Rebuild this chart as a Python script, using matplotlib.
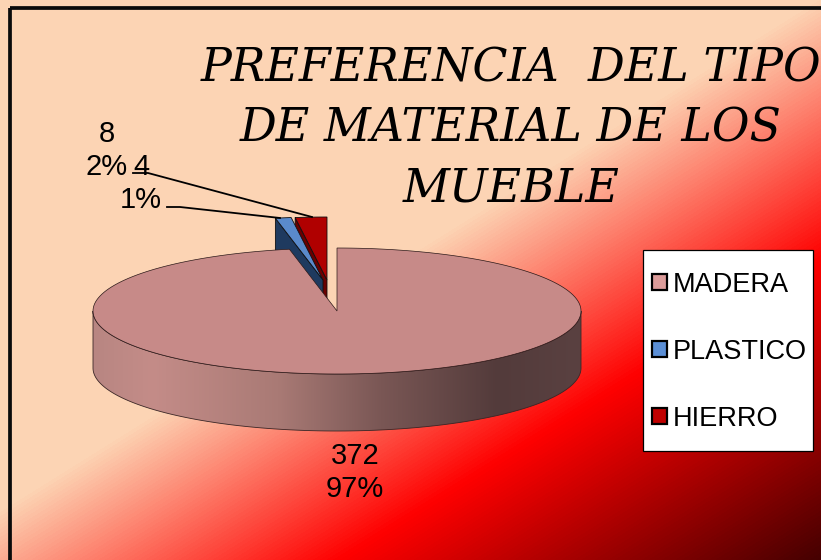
import numpy as np
import matplotlib
matplotlib.use("Agg")
import matplotlib.pyplot as plt
from matplotlib.colors import LinearSegmentedColormap
from matplotlib.patches import Patch, Polygon, Rectangle

# Data
categories = ["MADERA", "PLASTICO", "HIERRO"]
values = [372, 4, 8]
percents = ["97%", "1%", "2%"]
title = "PREFERENCIA  DEL TIPO\nDE MATERIAL DE LOS\nMUEBLE"

# Colours
top_colors = ["#C78A88", "#5A8ACB", "#B00000"]
side_colors = ["#8F6362", "#1F3A5F", "#6A0000"]
legend_colors = ["#DC9C9A", "#5B8FD6", "#C00000"]

# Pie geometry, in pixels
cx, cy = 337, 311
rx, ry = 244, 63
depth = 57
explode = [(0, 0), (-14, -31), (-10, -31)]


def arc(a0, a1, ox=0, oy=0, n=200):
    # angles in degrees, clockwise from the top of the ellipse
    t = np.radians(np.linspace(a0, a1, n))
    return np.column_stack([cx + ox + rx * np.sin(t), cy + oy - ry * np.cos(t)])


def slice_face(a0, a1, ox, oy):
    apex = [[cx + ox, cy + oy]]
    return np.vstack([apex, arc(a0, a1, ox, oy)])


def radial_side(angle, ox, oy):
    p = arc(angle, angle, ox, oy, n=1)[0]
    a = np.array([cx + ox, cy + oy])
    return np.array([p, a, a + [0, depth], p + [0, depth]])


fig = plt.figure(figsize=(8.21, 5.6), dpi=100, facecolor="white")
ax = fig.add_axes([0, 0, 1, 1])
ax.set_xlim(0, 821)
ax.set_ylim(560, 0)
ax.axis("off")

# Background gradient with its black frame
bg_end = 821 * 0.625 + 560
bg_cmap = LinearSegmentedColormap.from_list("bg", [
    (0.0, "#FCD4B4"), (510 / bg_end, "#FCD4B4"), (772 / bg_end, "#FF0000"), (1.0, "#450000")])
xx, yy = np.meshgrid(np.arange(0, 821), np.arange(0, 560))
grad = (xx * 0.625 + yy) / bg_end
ax.imshow(grad, cmap=bg_cmap, vmin=0, vmax=1, extent=(0, 821, 560, 0), aspect="auto", zorder=0,
          clip_path=Rectangle((10, 8), 900, 700, transform=ax.transData))
ax.add_patch(Rectangle((10, 7.5), 900, 700, fill=False, ec="#0A0A0A", lw=2.7, zorder=1))

# Slice angles from the values
angles = np.cumsum([0] + values) / sum(values) * 360

# Exploded small slices sit behind the big one
for i in [2, 1]:
    a0, a1 = angles[i], angles[i + 1]
    ox, oy = explode[i]
    ax.add_patch(Polygon(radial_side(a0, ox, oy), fc=side_colors[i], ec="#101010", lw=0.6, zorder=2))
    ax.add_patch(Polygon(slice_face(a0, a1, ox, oy), fc=top_colors[i], ec="#101010", lw=0.6, zorder=2))

# Big slice: rim with a horizontal gradient, then the top face
front = arc(90, 270)
rim = np.vstack([front, front[::-1] + [0, depth]])
rim_poly = Polygon(rim, fc="none", ec="none", zorder=3)
ax.add_patch(rim_poly)
rim_cmap = LinearSegmentedColormap.from_list("rim", [
    (0.0, "#B88682"), (0.12, "#C48C88"), (0.38, "#A97A75"), (0.59, "#7A5755"), (0.83, "#533B3B"), (1.0, "#5A4141")])
rim_img = ax.imshow(np.linspace(0, 1, 256).reshape(1, -1), cmap=rim_cmap, aspect="auto",
                    extent=(cx - rx, cx + rx, cy + depth + ry, cy), zorder=3)
rim_img.set_clip_path(rim_poly)
ax.add_patch(Polygon(rim, fc="none", ec="#3A2626", lw=0.6, zorder=3))
ax.add_patch(Polygon(slice_face(angles[0], angles[1], 0, 0), fc=top_colors[0], ec="#2A1818", lw=0.5, zorder=4))

# Leader lines
ax.plot([133, 148, 312], [173, 173, 217], color="black", lw=1.3, zorder=5)
ax.plot([167, 180, 280], [207, 207, 218], color="black", lw=1.3, zorder=5)

# Data labels
label_font = dict(family="Liberation Sans", fontsize=21, color="black", ha="center", va="center",
                  linespacing=1.23, zorder=6)
ax.text(355, 472.5, f"{values[0]}\n{percents[0]}", **label_font)
ax.text(107, 150.5, f"{values[2]}\n{percents[2]}", **label_font)
ax.text(141, 183.5, f"{values[1]}\n{percents[1]}", **label_font)

# Title
ax.text(511, 129, title, family="DejaVu Serif", style="italic", fontsize=33, color="black",
        ha="center", va="center", linespacing=1.42, zorder=6, clip_on=True)

# Legend
ax.add_patch(Rectangle((643, 250), 170, 201, fc="white", ec="black", lw=0.9, zorder=6))
handles = [Patch(fc=c, ec="black", lw=1.6) for c in legend_colors]
leg = ax.legend(handles, categories, loc="upper left", bbox_to_anchor=(652, 271.5),
                bbox_transform=ax.transData, prop=dict(family="Liberation Sans", size=19.5),
                frameon=False, labelspacing=1.52, handlelength=0.55, handleheight=0.55,
                handletextpad=0.2, borderpad=0, borderaxespad=0)
leg.set_zorder(7)

fig.savefig("out.png", dpi=100)
